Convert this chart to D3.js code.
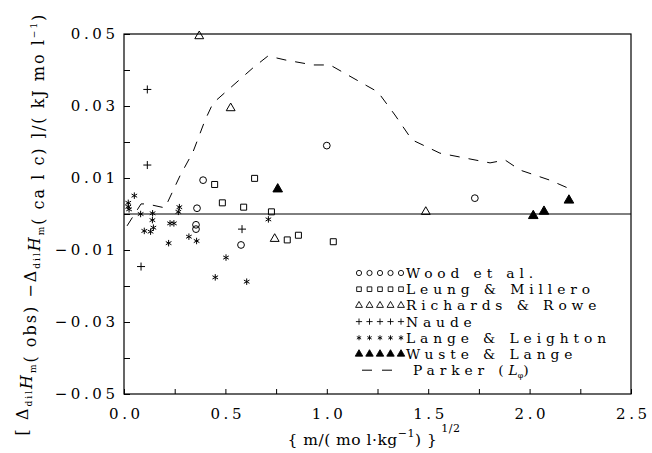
<!DOCTYPE html>
<html>
<head>
<meta charset="utf-8">
<script src="https://cdn.jsdelivr.net/npm/d3@7"></script>
<style>
  body { margin: 0; background: #fff; }
  svg { display: block; }
  text { font-family: "DejaVu Serif", "Liberation Serif", serif; fill: #000; }
</style>
</head>
<body>
<div id="container"></div>
<script>
// values: [sqrt(m), deviation in kJ/mol]
const wood = [[0.39, 0.0094], [0.36, 0.0016], [1.0, 0.019], [1.73, 0.0044],
  [0.355, -0.0030], [0.355, -0.0042], [0.577, -0.0086]];
const leung = [[0.447, 0.0082], [0.485, 0.0031], [0.59, 0.0019], [0.644, 0.0099],
  [0.727, 0.0006], [0.805, -0.0072], [0.86, -0.0059], [1.032, -0.0077]];
const richards = [[0.371, 0.0494], [0.526, 0.0294], [0.743, -0.0069], [1.488, 0.0006]];
const naude = [[0.115, 0.0346], [0.115, 0.0136], [0.084, -0.0146], [0.582, -0.0042]];
const lange = [[0.021, 0.0031], [0.021, 0.0020], [0.025, 0.0013], [0.051, 0.0051],
  [0.082, 0.0], [0.141, 0.0002], [0.14, -0.0017], [0.145, -0.0038], [0.131, -0.0049],
  [0.10, -0.0047], [0.227, -0.0026], [0.246, -0.0026], [0.22, -0.0081], [0.273, 0.0019],
  [0.268, 0.0006], [0.32, -0.0063], [0.358, -0.0075], [0.503, -0.0121], [0.45, -0.0176],
  [0.605, -0.0188], [0.712, -0.0015]];
const wuste = [[0.758, 0.0069], [2.018, -0.0005], [2.071, 0.0007], [2.194, 0.0038]];
const parker = [[0.015, -0.0033], [0.084, 0.0028], [0.113, 0.0028], [0.202, 0.0017],
  [0.276, 0.0106], [0.34, 0.0172], [0.40, 0.0261], [0.439, 0.0308], [0.636, 0.0406],
  [0.71, 0.0439], [0.794, 0.0428], [0.932, 0.0414], [1.016, 0.0414], [1.198, 0.0356],
  [1.252, 0.0339], [1.336, 0.0275], [1.42, 0.0206], [1.558, 0.0169], [1.805, 0.0142],
  [1.879, 0.0150], [1.953, 0.0122], [2.10, 0.0094], [2.21, 0.0067]];

const xTicks = [0, 0.25, 0.5, 0.75, 1.0, 1.25, 1.5, 1.75, 2.0, 2.25, 2.5];
const yTicks = [-0.05, -0.04, -0.03, -0.02, -0.01, 0, 0.01, 0.02, 0.03, 0.04, 0.05];
const legendNames = ["Wood et al.", "Leung & Millero", "Richards & Rowe", "Naude",
  "Lange & Leighton", "Wuste & Lange"];

const W = 652, H = 453;
const mLeft = 124, mRight = 631, mTop = 34, mBottom = 394;
const FONT = "DejaVu Serif";

const svg = d3.select("#container").append("svg")
  .attr("width", W).attr("height", H);
svg.append("rect").attr("width", W).attr("height", H).attr("fill", "#fff");

const x = d3.scaleLinear().domain([0, 2.5]).range([mLeft, mRight]);
const y = d3.scaleLinear().domain([-0.05, 0.05]).range([mBottom, mTop]);

// thin plus and asterisk as custom symbol types
const plus = {
  draw(ctx, size) {
    const r = Math.sqrt(size) / 2;
    ctx.moveTo(-r, 0); ctx.lineTo(r, 0);
    ctx.moveTo(0, -r); ctx.lineTo(0, r);
  }
};
const star = {
  draw(ctx, size) {
    const r = Math.sqrt(size) / 2;
    for (let k = 0; k < 3; k++) {
      const a = Math.PI / 2 + k * Math.PI / 3;
      ctx.moveTo(r * Math.cos(a), -r * Math.sin(a));
      ctx.lineTo(-r * Math.cos(a), r * Math.sin(a));
    }
  }
};

const series = [
  { data: wood, type: d3.symbolCircle, size: 36, fill: "none" },
  { data: leung, type: d3.symbolSquare, size: 36, fill: "none" },
  { data: richards, type: d3.symbolTriangle, size: 34, fill: "none" },
  { data: naude, type: plus, size: 64, fill: "none" },
  { data: lange, type: star, size: 42, fill: "none" },
  { data: wuste, type: d3.symbolTriangle, size: 40, fill: "#000" }
];

// axes with inward ticks
const fmt = d3.format(".2f");
const yAxis = d3.axisLeft(y).tickValues(yTicks).tickSizeInner(-6).tickSizeOuter(0)
  .tickPadding(9)
  .tickFormat(d => Math.round(d * 100) % 2 !== 0 ? fmt(d) : "");
const xAxis = d3.axisBottom(x).tickValues(xTicks).tickSizeInner(-5).tickSizeOuter(0)
  .tickPadding(14)
  .tickFormat(d => Math.round(d * 4) % 2 === 0 ? d3.format(".1f")(d) : "");

const gy = svg.append("g").attr("transform", `translate(${mLeft},0)`).call(yAxis);
const gx = svg.append("g").attr("transform", `translate(0,${mBottom})`).call(xAxis);
[gx, gy].forEach(g => {
  g.select(".domain").remove();
  g.selectAll("line").attr("stroke", "#000").attr("stroke-width", 1);
  g.selectAll("text").attr("font-family", FONT).attr("font-size", 15)
    .attr("letter-spacing", 3.6);
});
gy.selectAll("text").attr("dx", 3.6);
gx.selectAll("text").attr("dx", 1.8);

// frame and zero line
svg.append("rect").attr("x", mLeft).attr("y", mTop)
  .attr("width", mRight - mLeft).attr("height", mBottom - mTop)
  .attr("fill", "none").attr("stroke", "#000").attr("stroke-width", 1.2);
svg.append("line").attr("x1", mLeft).attr("x2", mRight)
  .attr("y1", y(0)).attr("y2", y(0)).attr("stroke", "#000").attr("stroke-width", 1);

// Parker curve
svg.append("path").datum(parker)
  .attr("d", d3.line().x(d => x(d[0])).y(d => y(d[1])))
  .attr("fill", "none").attr("stroke", "#000").attr("stroke-width", 1)
  .attr("stroke-dasharray", "10,9");

// points
series.forEach(s => {
  svg.append("g").selectAll("path").data(s.data).join("path")
    .attr("transform", d => `translate(${x(d[0])},${y(d[1])})`)
    .attr("d", d3.symbol().type(s.type).size(s.size))
    .attr("fill", s.fill).attr("stroke", "#000").attr("stroke-width", 1);
});

// legend
const legend = svg.append("g");
const rowY = i => 273 + i * 16.2;
series.forEach((s, i) => {
  const row = legend.append("g").attr("transform", `translate(0,${rowY(i)})`);
  row.selectAll("path").data(d3.range(5)).join("path")
    .attr("transform", k => `translate(${359 + k * 10.5},0)`)
    .attr("d", d3.symbol().type(s.type).size(s.size * 0.6))
    .attr("fill", s.fill).attr("stroke", "#000").attr("stroke-width", 0.9);
  row.append("text").attr("x", 406).attr("y", 5)
    .attr("font-size", 13.8).attr("letter-spacing", 4.9)
    .text(legendNames[i]);
});
const pr = legend.append("g").attr("transform", `translate(0,${rowY(6)})`);
pr.append("line").attr("x1", 362).attr("x2", 394).attr("y1", 0).attr("y2", 0)
  .attr("stroke", "#000").attr("stroke-width", 1).attr("stroke-dasharray", "10,10");
const pt = pr.append("text").attr("x", 413).attr("y", 5)
  .attr("font-size", 13.8).attr("letter-spacing", 4.9);
pt.append("tspan").text("Parker (");
pt.append("tspan").attr("font-style", "italic").attr("letter-spacing", 0).text("L");
pt.append("tspan").attr("font-size", 8).attr("dy", 3).attr("letter-spacing", 0).text("φ");
pt.append("tspan").attr("dy", -3).text(")");

// x title
const xt = svg.append("text").attr("x", 374).attr("y", 445)
  .attr("text-anchor", "middle").attr("font-size", 15.5).attr("letter-spacing", 0.5);
xt.append("tspan").text("{ m/( mo l·kg");
xt.append("tspan").attr("font-size", 11).attr("dy", -8).text("−1");
xt.append("tspan").attr("dy", 8).text(") }");
xt.append("tspan").attr("font-size", 11).attr("dy", -13).attr("dx", 4).text("1/2");

// y title
const yt = svg.append("text")
  .attr("transform", "translate(28,224) rotate(-90)")
  .attr("text-anchor", "middle").attr("font-size", 16).attr("letter-spacing", 2.0);
const sub = (t, txt) => {
  t.append("tspan").attr("font-size", 9).attr("dy", 4).text(txt);
  t.append("tspan").attr("dy", -4).text("");
};
yt.append("tspan").text("[ Δ");
sub(yt, "dil");
yt.append("tspan").attr("font-style", "italic").text("H");
sub(yt, "m");
yt.append("tspan").text("( obs) −Δ");
sub(yt, "dil");
yt.append("tspan").attr("font-style", "italic").text("H");
sub(yt, "m");
yt.append("tspan").text("( ca l c) ]/( kJ  mo l");
yt.append("tspan").attr("font-size", 9).attr("dy", -7).text("−1");
yt.append("tspan").attr("dy", 7).text(")");
</script>
</body>
</html>
